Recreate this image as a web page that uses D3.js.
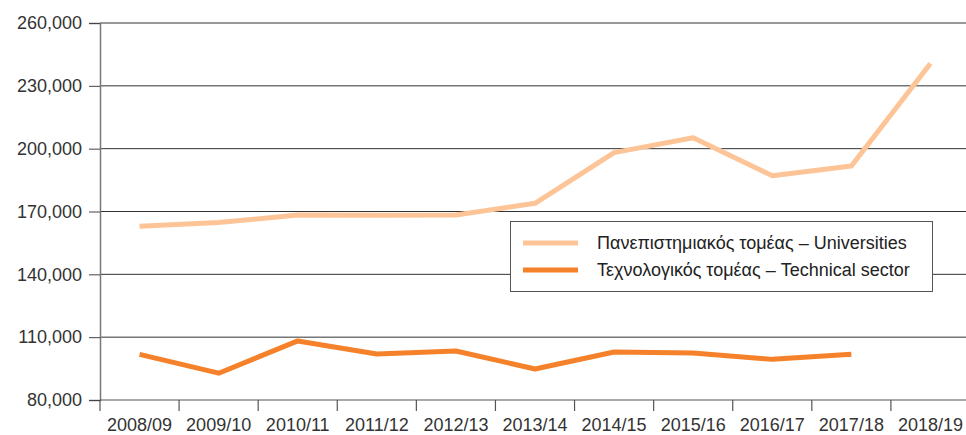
<!DOCTYPE html>
<html>
<head>
<meta charset="utf-8">
<script src="https://cdn.jsdelivr.net/npm/d3@7"></script>
<style>
  body { margin: 0; background: #fff; }
  svg { display: block; font-family: "Liberation Sans", Arial, Helvetica, sans-serif; }
</style>
</head>
<body>
<script>
var years = ["2008/09", "2009/10", "2010/11", "2011/12", "2012/13", "2013/14",
             "2014/15", "2015/16", "2016/17", "2017/18", "2018/19"];
var universities = [163000, 164700, 168300, 168200, 168300, 173900,
                    198100, 205200, 187100, 191700, 240700];
var technical = [101800, 92800, 108200, 102000, 103400, 94800,
                 102900, 102400, 99400, 101800, null];
var yTicks = [80000, 110000, 140000, 170000, 200000, 230000, 260000];
var legendLabels = ["Πανεπιστημιακός τομέας – Universities",
                    "Τεχνολογικός τομέας – Technical sector"];
var colors = ["#fdc597", "#f5822a"];

var W = 966, H = 435;
var margin = {top: 23, right: 0, bottom: 35, left: 100};

var svg = d3.select("body").append("svg")
    .attr("width", W)
    .attr("height", H);

var x = d3.scaleBand().domain(years).range([margin.left, 970]);
var y = d3.scaleLinear().domain([80000, 260000]).range([H - margin.bottom, margin.top]);

// gridlines
svg.append("g")
    .selectAll("line")
    .data(yTicks.slice(1))
    .join("line")
    .attr("x1", margin.left)
    .attr("x2", W)
    .attr("y1", d => y(d))
    .attr("y2", d => y(d))
    .attr("stroke", "#333")
    .attr("stroke-width", 1);

// y axis
var yAxis = svg.append("g")
    .attr("transform", "translate(" + margin.left + ",0)")
    .call(d3.axisLeft(y).tickValues(yTicks).tickFormat(d3.format(",")).tickSize(11).tickPadding(7));
yAxis.select(".domain").attr("stroke", "#777").attr("stroke-width", 1.5);
yAxis.selectAll(".tick line").attr("stroke", "#444");
yAxis.selectAll("text").attr("fill", "#333").style("font-size", "18px");

// x axis
var xAxis = svg.append("g")
    .attr("transform", "translate(0," + y(80000) + ")")
    .call(d3.axisBottom(x).tickSize(0).tickPadding(18));
xAxis.select(".domain").remove();
xAxis.selectAll("text").attr("fill", "#333").style("font-size", "18px");
xAxis.append("line")
    .attr("x1", margin.left)
    .attr("x2", W)
    .attr("stroke", "#555")
    .attr("stroke-width", 1.2);
xAxis.selectAll(".bound")
    .data(years)
    .join("line")
    .attr("class", "bound")
    .attr("x1", d => x(d))
    .attr("x2", d => x(d))
    .attr("y1", 0)
    .attr("y2", 11)
    .attr("stroke", "#555")
    .attr("stroke-width", 1.2);

// lines
var line = d3.line()
    .defined(d => d.v != null)
    .x(d => x(d.year) + x.bandwidth() / 2)
    .y(d => y(d.v));

[universities, technical].forEach(function(series, i) {
    svg.append("path")
        .datum(years.map((yr, j) => ({year: yr, v: series[j]})))
        .attr("fill", "none")
        .attr("stroke", colors[i])
        .attr("stroke-width", 5)
        .attr("stroke-linejoin", "round")
        .attr("d", line);
});

// legend
var legend = svg.append("g").attr("transform", "translate(510,221)");
legend.append("rect")
    .attr("x", 0.5)
    .attr("y", 0.5)
    .attr("width", 422)
    .attr("height", 70)
    .attr("fill", "#fff")
    .attr("stroke", "#555")
    .attr("stroke-width", 1);

legendLabels.forEach(function(lbl, i) {
    var g = legend.append("g").attr("transform", "translate(0," + (22 + i * 27) + ")");
    g.append("line")
        .attr("x1", 13)
        .attr("x2", 68)
        .attr("stroke", colors[i])
        .attr("stroke-width", 5);
    g.append("text")
        .attr("x", 87)
        .attr("dy", "0.35em")
        .attr("fill", "#222")
        .style("font-size", "18px")
        .text(lbl);
});
</script>
</body>
</html>
